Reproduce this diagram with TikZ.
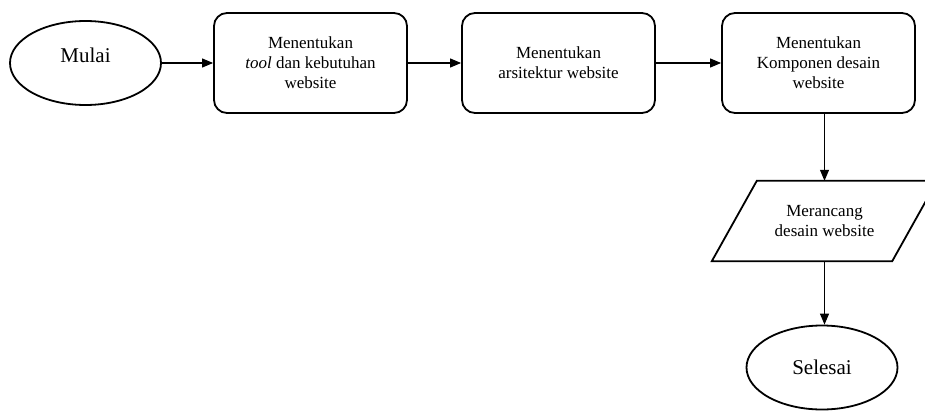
\documentclass[tikz,border=0pt]{standalone}
\usepackage{fontspec}
\setmainfont{Liberation Serif}
\usetikzlibrary{shapes.geometric,arrows.meta,calc}
\begin{document}
\begin{tikzpicture}[x=1pt,y=-1pt,
  stepbox/.style={draw, line width=1.8pt, rounded corners=13pt,
    minimum width=193pt, minimum height=100pt, align=center,
    inner sep=0pt, font=\fontsize{17}{20}\selectfont},
  terminal/.style={draw, ellipse, line width=1.8pt, minimum width=151pt,
    minimum height=84pt, inner sep=0pt, font=\fontsize{21}{24}\selectfont},
  iobox/.style={minimum width=180pt, minimum height=80pt, inner sep=0pt,
    align=center, font=\fontsize{17}{20}\selectfont},
  flow/.style={line width=1.1pt, -{Triangle[length=11pt,width=9pt]}}]

\useasboundingbox (0,0) rectangle (925,412);

% start, process steps and end
\node[terminal] (mulai) at (85.5,63) {\raisebox{8pt}[\height][\depth]{Mulai}};
\node[stepbox] (tool) at (310.5,63) {Menentukan\\\textit{tool} dan kebutuhan\\website};
\node[stepbox] (arsi) at (558.5,63) {Menentukan\\arsitektur website};
\node[stepbox] (komp) at (818.5,63) {Menentukan\\Komponen desain\\website};
\node[iobox] (rancang) at (824.5,221) {Merancang\\desain website};
\node[terminal] (selesai) at (822,367.5) {Selesai};

% parallelogram outline around the design step
\draw[line width=1.8pt]
  ($(rancang.south west)+(-22.5,0)$) -- ($(rancang.south east)+(-22.5,0)$)
  -- ($(rancang.north east)+(22.5,0)$) -- ($(rancang.north west)+(22.5,0)$)
  -- cycle;

% connectors
\draw[flow] (mulai.east) -- (mulai.east -| tool.west);
\draw[flow] (tool.east) -- (arsi.west);
\draw[flow] (arsi.east) -- (komp.west);
\draw[flow] (komp.south -| rancang) -- (rancang.north);
\draw[flow] (rancang.south) -- (rancang.south |- selesai.north);
\end{tikzpicture}
\end{document}
